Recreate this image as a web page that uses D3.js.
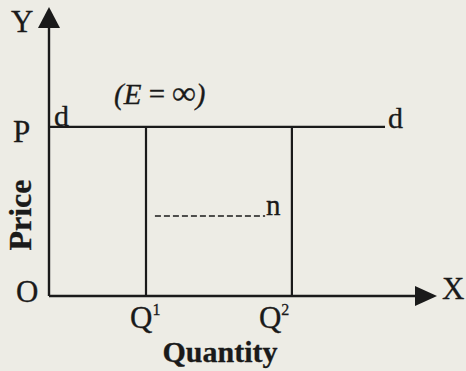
<!DOCTYPE html>
<html>
<head>
<meta charset="utf-8">
<script src="https://cdn.jsdelivr.net/npm/d3@7"></script>
<style>
  body { margin: 0; background: #edece5; }
  svg { display: block; }
  text { font-family: "Liberation Serif", "Times New Roman", serif; fill: #1a1a1a; stroke: #1a1a1a; stroke-width: 0.3; }
</style>
</head>
<body>
<div id="chart"></div>
<script>
// Data (quantity and price in arbitrary units, 0-100)
const quantities = [25, 62.6];           // Q1, Q2
const quantityLabels = ["1", "2"];
const price = 58.5;                       // P
const demandEnd = 86.6;                   // where the d-d line ends
const dashedSeg = [27.3, 55.7];           // the dashed "n" segment
const dashedPrice = 27.7;
const axisMax = 100;

function draw() {
    const width = 466, height = 371;
    const ink = "#1a1a1a";

    const svg = d3.select("#chart").append("svg")
        .attr("width", width)
        .attr("height", height);

    svg.append("rect").attr("width", width).attr("height", height).attr("fill", "#edece5");

    const x = d3.scaleLinear().domain([0, axisMax]).range([49, 437]);
    const y = d3.scaleLinear().domain([0, axisMax]).range([296, 7]);

    const line = d3.line().x(d => x(d[0])).y(d => y(d[1]));

    // axes
    svg.append("path")
        .attr("d", line([[0, 0], [0, axisMax - 6]]))
        .attr("stroke", ink).attr("stroke-width", 2.4).attr("fill", "none");
    svg.append("path")
        .attr("d", line([[0, 0], [axisMax - 5, 0]]))
        .attr("stroke", ink).attr("stroke-width", 2.4).attr("fill", "none");

    // arrow heads
    const x0 = x(0), y0 = y(0), yTop = y(axisMax), xEnd = x(axisMax);
    svg.append("path")
        .attr("d", `M${x0},${yTop} L${x0 - 11},${yTop + 21} L${x0 + 11},${yTop + 21} Z`)
        .attr("fill", ink);
    svg.append("path")
        .attr("d", `M${xEnd},${y0} L${xEnd - 22},${y0 - 10} L${xEnd - 22},${y0 + 10} Z`)
        .attr("fill", ink);

    // demand line d-d
    svg.append("path")
        .attr("d", line([[0, price], [demandEnd, price]]))
        .attr("stroke", ink).attr("stroke-width", 2.2).attr("fill", "none");

    // verticals at Q1, Q2
    svg.selectAll(".qline").data(quantities).enter().append("path")
        .attr("class", "qline")
        .attr("d", q => line([[q, 0], [q, price]]))
        .attr("stroke", ink).attr("stroke-width", 2.2).attr("fill", "none");

    // dashed segment
    svg.append("path")
        .attr("d", line([[dashedSeg[0], dashedPrice], [dashedSeg[1], dashedPrice]]))
        .attr("stroke", ink).attr("stroke-width", 1.6)
        .attr("stroke-dasharray", "6,3").attr("fill", "none");

    svg.append("text").attr("x", x(dashedSeg[1]) + 1).attr("y", y(dashedPrice) - 1)
        .attr("font-size", 29).text("n");

    // axis letters
    const big = 31;
    svg.append("text").attr("x", 11).attr("y", 32).attr("font-size", big).text("Y");
    svg.append("text").attr("x", 13).attr("y", y(price) + 15).attr("font-size", big).text("P");
    svg.append("text").attr("x", 16).attr("y", y0 + 6).attr("font-size", big).text("O");
    svg.append("text").attr("x", 442).attr("y", y0 + 3).attr("font-size", big).text("X");

    // d labels
    svg.append("text").attr("x", x(0) + 5).attr("y", y(price) - 1).attr("font-size", 30).text("d");
    svg.append("text").attr("x", x(demandEnd) + 3).attr("y", y(price) + 1).attr("font-size", 30).text("d");

    // Q labels
    const qOffsets = [-16, -33];
    const ql = svg.selectAll(".qlabel").data(quantities).enter().append("text")
        .attr("class", "qlabel")
        .attr("x", (q, i) => x(q) + qOffsets[i])
        .attr("y", 328)
        .attr("font-size", 31);
    ql.append("tspan").text("Q");
    ql.append("tspan").attr("dy", -13).attr("font-size", 16).text((q, i) => quantityLabels[i]);

    // elasticity annotation
    const e = svg.append("text").attr("x", 114).attr("y", 104).attr("font-size", 29);
    e.append("tspan").attr("font-style", "italic").text("(E");
    e.append("tspan").text(" = ");
    e.append("tspan").attr("font-size", 33).attr("font-weight", "bold").text("\u221E");
    e.append("tspan").attr("font-style", "italic").text(")");

    // axis titles
    svg.append("text").attr("x", 220).attr("y", 362)
        .attr("text-anchor", "middle").attr("font-weight", "bold").attr("font-size", 30)
        .text("Quantity");
    svg.append("text")
        .attr("transform", "translate(31,215) rotate(-90)")
        .attr("text-anchor", "middle").attr("font-weight", "bold").attr("font-size", 32)
        .text("Price");
}

draw();
</script>
</body>
</html>
